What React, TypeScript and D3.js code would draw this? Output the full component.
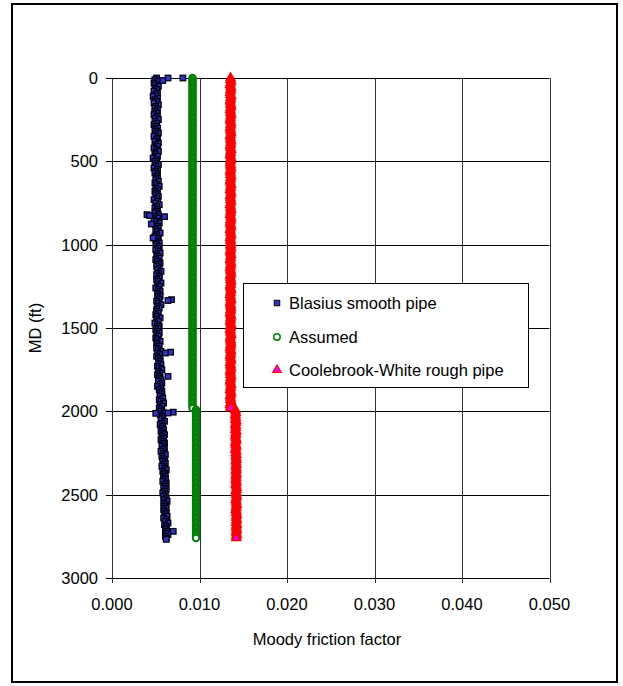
import React from "react";
import * as d3 from "d3";

// measured depth stations (ft), one row = 100 ft
const md = [
  0, 10, 20, 30, 40, 50, 60, 70, 80, 90,
  100, 110, 120, 130, 140, 150, 160, 170, 180, 190,
  200, 210, 220, 230, 240, 250, 260, 270, 280, 290,
  300, 310, 320, 330, 340, 350, 360, 370, 380, 390,
  400, 410, 420, 430, 440, 450, 460, 470, 480, 490,
  500, 510, 520, 530, 540, 550, 560, 570, 580, 590,
  600, 610, 620, 630, 640, 650, 660, 670, 680, 690,
  700, 710, 720, 730, 740, 750, 760, 770, 780, 790,
  800, 810, 820, 830, 840, 850, 860, 870, 880, 890,
  900, 910, 920, 930, 940, 950, 960, 970, 980, 990,
  1000, 1010, 1020, 1030, 1040, 1050, 1060, 1070, 1080, 1090,
  1100, 1110, 1120, 1130, 1140, 1150, 1160, 1170, 1180, 1190,
  1200, 1210, 1220, 1230, 1240, 1250, 1260, 1270, 1280, 1290,
  1300, 1310, 1320, 1330, 1340, 1350, 1360, 1370, 1380, 1390,
  1400, 1410, 1420, 1430, 1440, 1450, 1460, 1470, 1480, 1490,
  1500, 1510, 1520, 1530, 1540, 1550, 1560, 1570, 1580, 1590,
  1600, 1610, 1620, 1630, 1640, 1650, 1660, 1670, 1680, 1690,
  1700, 1710, 1720, 1730, 1740, 1750, 1760, 1770, 1780, 1790,
  1800, 1810, 1820, 1830, 1840, 1850, 1860, 1870, 1880, 1890,
  1900, 1910, 1920, 1930, 1940, 1950, 1960, 1970, 1980, 1990,
  2000, 2010, 2020, 2030, 2040, 2050, 2060, 2070, 2080, 2090,
  2100, 2110, 2120, 2130, 2140, 2150, 2160, 2170, 2180, 2190,
  2200, 2210, 2220, 2230, 2240, 2250, 2260, 2270, 2280, 2290,
  2300, 2310, 2320, 2330, 2340, 2350, 2360, 2370, 2380, 2390,
  2400, 2410, 2420, 2430, 2440, 2450, 2460, 2470, 2480, 2490,
  2500, 2510, 2520, 2530, 2540, 2550, 2560, 2570, 2580, 2590,
  2600, 2610, 2620, 2630, 2640, 2650, 2660, 2670, 2680, 2690,
  2700, 2710, 2720, 2730, 2740, 2750, 2760,
];

const blasius = [
  0.0051, 0.0049, 0.0052, 0.0048, 0.005, 0.0053, 0.0049, 0.0051, 0.0048, 0.0052,
  0.005, 0.0047, 0.0052, 0.0049, 0.0051, 0.0048, 0.0053, 0.005, 0.0049, 0.0052,
  0.0049, 0.0051, 0.0048, 0.0052, 0.005, 0.0053, 0.0049, 0.0051, 0.0048, 0.005,
  0.0052, 0.0049, 0.0051, 0.0053, 0.005, 0.0048, 0.0052, 0.0051, 0.0049, 0.0053,
  0.005, 0.0052, 0.0048, 0.0051, 0.0053, 0.0049, 0.005, 0.0052, 0.0047, 0.0051,
  0.0049, 0.0051, 0.0053, 0.005, 0.0048, 0.0052, 0.005, 0.0049, 0.0052, 0.0051,
  0.0052, 0.005, 0.0053, 0.0049, 0.0051, 0.0054, 0.005, 0.0052, 0.0049, 0.0051,
  0.005, 0.0053, 0.0051, 0.0048, 0.0052, 0.005, 0.0054, 0.0051, 0.0049, 0.0052,
  0.0051, 0.0049, 0.0053, 0.005, 0.0052, 0.0048, 0.0051, 0.0054, 0.005, 0.0052,
  0.0053, 0.005, 0.0052, 0.0055, 0.0051, 0.0049, 0.0053, 0.0052, 0.005, 0.0054,
  0.0051, 0.0054, 0.0052, 0.005, 0.0053, 0.0055, 0.0051, 0.0052, 0.0054, 0.005,
  0.0052, 0.0055, 0.0053, 0.0051, 0.0054, 0.0052, 0.0056, 0.0053, 0.0051, 0.0054,
  0.0054, 0.0051, 0.0053, 0.0056, 0.0052, 0.0054, 0.005, 0.0053, 0.0055, 0.0052,
  0.0053, 0.0055, 0.0052, 0.0054, 0.0051, 0.0053, 0.0056, 0.0052, 0.0054, 0.0051,
  0.0051, 0.0053, 0.005, 0.0052, 0.0055, 0.0051, 0.0053, 0.0049, 0.0052, 0.0054,
  0.0053, 0.005, 0.0052, 0.0054, 0.0051, 0.0053, 0.005, 0.0052, 0.0055, 0.0051,
  0.0052, 0.0054, 0.0051, 0.0053, 0.0056, 0.0052, 0.0054, 0.0051, 0.0053, 0.0055,
  0.0055, 0.0053, 0.0056, 0.0052, 0.0054, 0.0057, 0.0053, 0.0055, 0.0052, 0.0054,
  0.0054, 0.0056, 0.0053, 0.0057, 0.0055, 0.0052, 0.0056, 0.0054, 0.0057, 0.0055,
  0.0057, 0.0055, 0.0058, 0.0054, 0.0056, 0.0059, 0.0055, 0.0057, 0.0054, 0.0056,
  0.0056, 0.0059, 0.0055, 0.0057, 0.0058, 0.0056, 0.006, 0.0057, 0.0055, 0.0058,
  0.0057, 0.0059, 0.0056, 0.0058, 0.006, 0.0057, 0.0059, 0.0056, 0.0058, 0.006,
  0.0059, 0.0057, 0.006, 0.0058, 0.0056, 0.0059, 0.0061, 0.0057, 0.0058, 0.006,
  0.0058, 0.0061, 0.0059, 0.0057, 0.006, 0.0062, 0.0058, 0.006, 0.0059, 0.0061,
  0.0059, 0.0061, 0.0058, 0.0062, 0.006, 0.0061, 0.0059, 0.0062, 0.006, 0.0058,
  0.0061, 0.0059, 0.0062, 0.006, 0.0063, 0.0059, 0.0061, 0.006, 0.0062, 0.0059,
  0.006, 0.0062, 0.0061, 0.0063, 0.0059, 0.0062, 0.0061, 0.0064, 0.006, 0.0062,
  0.0062, 0.0061, 0.0063, 0.0062, 0.0064, 0.0061, 0.0062,
];

// scattered Blasius points off the main band
const blasiusExtraMd = [0, 0, 15, 820, 825, 832, 876, 960, 1330, 1335, 1645, 1650, 1790, 2005, 2010, 2012, 2720, 2768];
const blasiusExtraF = [0.0064, 0.0081, 0.0058, 0.004, 0.0043, 0.006, 0.0045, 0.0047, 0.0068, 0.0064, 0.0067, 0.0061, 0.0064, 0.007, 0.0064, 0.005, 0.007, 0.0062];

const assumed = [
  0.0092, 0.0092, 0.0092, 0.0092, 0.0092, 0.0092, 0.0092, 0.0092, 0.0092, 0.0092,
  0.0092, 0.0092, 0.0092, 0.0092, 0.0092, 0.0092, 0.0092, 0.0092, 0.0092, 0.0092,
  0.0092, 0.0092, 0.0092, 0.0092, 0.0092, 0.0092, 0.0092, 0.0092, 0.0092, 0.0092,
  0.0092, 0.0092, 0.0092, 0.0092, 0.0092, 0.0092, 0.0092, 0.0092, 0.0092, 0.0092,
  0.0092, 0.0092, 0.0092, 0.0092, 0.0092, 0.0092, 0.0092, 0.0092, 0.0092, 0.0092,
  0.0092, 0.0092, 0.0092, 0.0092, 0.0092, 0.0092, 0.0092, 0.0092, 0.0092, 0.0092,
  0.0092, 0.0092, 0.0092, 0.0092, 0.0092, 0.0092, 0.0092, 0.0092, 0.0092, 0.0092,
  0.0092, 0.0092, 0.0092, 0.0092, 0.0092, 0.0092, 0.0092, 0.0092, 0.0092, 0.0092,
  0.0092, 0.0092, 0.0092, 0.0092, 0.0092, 0.0092, 0.0092, 0.0092, 0.0092, 0.0092,
  0.0092, 0.0092, 0.0092, 0.0092, 0.0092, 0.0092, 0.0092, 0.0092, 0.0092, 0.0092,
  0.0092, 0.0092, 0.0092, 0.0092, 0.0092, 0.0092, 0.0092, 0.0092, 0.0092, 0.0092,
  0.0092, 0.0092, 0.0092, 0.0092, 0.0092, 0.0092, 0.0092, 0.0092, 0.0092, 0.0092,
  0.0092, 0.0092, 0.0092, 0.0092, 0.0092, 0.0092, 0.0092, 0.0092, 0.0092, 0.0092,
  0.0092, 0.0092, 0.0092, 0.0092, 0.0092, 0.0092, 0.0092, 0.0092, 0.0092, 0.0092,
  0.0092, 0.0092, 0.0092, 0.0092, 0.0092, 0.0092, 0.0092, 0.0092, 0.0092, 0.0092,
  0.0092, 0.0092, 0.0092, 0.0092, 0.0092, 0.0092, 0.0092, 0.0092, 0.0092, 0.0092,
  0.0092, 0.0092, 0.0092, 0.0092, 0.0092, 0.0092, 0.0092, 0.0092, 0.0092, 0.0092,
  0.0092, 0.0092, 0.0092, 0.0092, 0.0092, 0.0092, 0.0092, 0.0092, 0.0092, 0.0092,
  0.0092, 0.0092, 0.0092, 0.0092, 0.0092, 0.0092, 0.0092, 0.0092, 0.0092, 0.0092,
  0.0092, 0.0092, 0.0092, 0.0092, 0.0092, 0.0092, 0.0092, 0.0092, 0.0092, 0.0096,
  0.0096, 0.0096, 0.0096, 0.0096, 0.0096, 0.0096, 0.0096, 0.0096, 0.0096, 0.0096,
  0.0096, 0.0096, 0.0096, 0.0096, 0.0096, 0.0096, 0.0096, 0.0096, 0.0096, 0.0096,
  0.0096, 0.0096, 0.0096, 0.0096, 0.0096, 0.0096, 0.0096, 0.0096, 0.0096, 0.0096,
  0.0096, 0.0096, 0.0096, 0.0096, 0.0096, 0.0096, 0.0096, 0.0096, 0.0096, 0.0096,
  0.0096, 0.0096, 0.0096, 0.0096, 0.0096, 0.0096, 0.0096, 0.0096, 0.0096, 0.0096,
  0.0096, 0.0096, 0.0096, 0.0096, 0.0096, 0.0096, 0.0096, 0.0096, 0.0096, 0.0096,
  0.0096, 0.0096, 0.0096, 0.0096, 0.0096, 0.0096, 0.0096, 0.0096, 0.0096, 0.0096,
  0.0096, 0.0096, 0.0096, 0.0096, 0.0096, 0.0096, 0.0096,
];

const coolebrook = [
  0.01355, 0.01355, 0.0136, 0.01355, 0.0135, 0.01355, 0.0136, 0.01355, 0.01355, 0.0135,
  0.01355, 0.0136, 0.01355, 0.01355, 0.0135, 0.01355, 0.01355, 0.0136, 0.01355, 0.0135,
  0.01355, 0.01355, 0.0136, 0.01355, 0.01355, 0.0135, 0.01355, 0.0136, 0.01355, 0.01355,
  0.0135, 0.01355, 0.01355, 0.0136, 0.01355, 0.0135, 0.01355, 0.01355, 0.0136, 0.01355,
  0.01355, 0.0135, 0.01355, 0.0136, 0.01355, 0.01355, 0.0135, 0.01355, 0.0136, 0.01355,
  0.01355, 0.0135, 0.01355, 0.01355, 0.0136, 0.01355, 0.0135, 0.01355, 0.01355, 0.0136,
  0.01355, 0.01355, 0.0135, 0.01355, 0.0136, 0.01355, 0.01355, 0.0135, 0.01355, 0.0136,
  0.01355, 0.0135, 0.01355, 0.01355, 0.0136, 0.01355, 0.0135, 0.01355, 0.01355, 0.0136,
  0.01355, 0.01355, 0.0135, 0.01355, 0.0136, 0.01355, 0.01355, 0.0135, 0.01355, 0.0136,
  0.01355, 0.0135, 0.01355, 0.01355, 0.0136, 0.01355, 0.0135, 0.01355, 0.01355, 0.01355,
  0.01355, 0.01355, 0.0136, 0.01355, 0.0135, 0.01355, 0.0136, 0.01355, 0.01355, 0.0135,
  0.01355, 0.0136, 0.01355, 0.01355, 0.0135, 0.01355, 0.01355, 0.0136, 0.01355, 0.0135,
  0.01355, 0.01355, 0.0136, 0.01355, 0.01355, 0.0135, 0.01355, 0.0136, 0.01355, 0.01355,
  0.0135, 0.01355, 0.01355, 0.0136, 0.01355, 0.0135, 0.01355, 0.01355, 0.0136, 0.01355,
  0.01355, 0.0135, 0.01355, 0.0136, 0.01355, 0.01355, 0.0135, 0.01355, 0.0136, 0.01355,
  0.01355, 0.0135, 0.01355, 0.01355, 0.0136, 0.01355, 0.0135, 0.01355, 0.01355, 0.0136,
  0.01355, 0.01355, 0.0135, 0.01355, 0.0136, 0.01355, 0.01355, 0.0135, 0.01355, 0.0136,
  0.01355, 0.0135, 0.01355, 0.01355, 0.0136, 0.01355, 0.0135, 0.01355, 0.01355, 0.0136,
  0.01355, 0.01355, 0.0135, 0.01355, 0.0136, 0.01355, 0.01355, 0.0135, 0.01355, 0.0136,
  0.01355, 0.0135, 0.01355, 0.01355, 0.0136, 0.01355, 0.0135, 0.01355, 0.01355, 0.0141,
  0.0141, 0.01415, 0.0141, 0.0141, 0.01415, 0.0141, 0.0142, 0.01415, 0.0141, 0.01415,
  0.01415, 0.0141, 0.0142, 0.01415, 0.01415, 0.0141, 0.01415, 0.0142, 0.01415, 0.0141,
  0.01415, 0.0142, 0.01415, 0.0141, 0.0142, 0.01415, 0.0142, 0.01415, 0.0142, 0.0142,
  0.01415, 0.0142, 0.0142, 0.01415, 0.0142, 0.0142, 0.01415, 0.0142, 0.0142, 0.01415,
  0.0142, 0.01415, 0.0142, 0.0142, 0.01415, 0.0142, 0.01425, 0.0142, 0.01415, 0.0142,
  0.0142, 0.01425, 0.0142, 0.01415, 0.0142, 0.0142, 0.01425, 0.0142, 0.0142, 0.01415,
  0.0142, 0.0142, 0.01425, 0.0142, 0.0142, 0.01425, 0.0142, 0.0142, 0.01425, 0.0142,
  0.0142, 0.01425, 0.0142, 0.0142, 0.01425, 0.0142, 0.0142,
];

const xTicks = [0, 0.01, 0.02, 0.03, 0.04, 0.05];
const yTicks = [0, 500, 1000, 1500, 2000, 2500, 3000];
const legendLabels = ["Blasius smooth pipe", "Assumed", "Coolebrook-White rough pipe"];

const W = 623;
const H = 686;
const FONT = "'Liberation Sans', Arial, sans-serif";

type Mk = { cx: number; cy: number; sw?: number };

const Square = ({ cx, cy, sw = 1.3 }: Mk) => (
  <rect x={cx - 2.75} y={cy - 2.75} width={5.5} height={5.5} fill="#3333cc" stroke="#000011" strokeWidth={sw} />
);

const Circle = ({ cx, cy, sw = 2 }: Mk) => (
  <circle cx={cx} cy={cy} r={3.2} fill="#ffffff" stroke="#008000" strokeWidth={sw} />
);

const Triangle = ({ cx, cy, sw = 1.6 }: Mk) => {
  const s = 8.5;
  const h = (s * Math.sqrt(3)) / 2;
  const d = `M${cx},${cy - (2 * h) / 3}L${cx + s / 2},${cy + h / 3}L${cx - s / 2},${cy + h / 3}Z`;
  return <path d={d} fill="#ff00ff" stroke="#ff0000" strokeWidth={sw} />;
};

export default function App() {
  const x = d3.scaleLinear().domain([0, 0.05]).range([112, 549.5]);
  const y = d3.scaleLinear().domain([0, 3000]).range([78, 578]);
  const px = (v: number) => Math.round(x(v)) + 0.5;
  const py = (v: number) => Math.round(y(v)) + 0.5;
  const fmt = d3.format(".3f");

  return (
    <svg width={W} height={H} style={{ position: "absolute", left: 0, top: 0 }} fontFamily={FONT}>
      <rect x={0} y={0} width={W} height={H} fill="#fff" />
      <rect x={12} y={4} width={605} height={678} fill="none" stroke="#000" strokeWidth={2} />

      {/* grid */}
      {yTicks.slice(0, -1).map(t => (
        <line key={"gy" + t} x1={x(0)} x2={x(0.05)} y1={py(t)} y2={py(t)} stroke="#000" />
      ))}
      {xTicks.slice(1).map(t => (
        <line key={"gx" + t} x1={px(t)} x2={px(t)} y1={y(0)} y2={y(3000)} stroke="#333" />
      ))}

      {/* axes */}
      <line x1={px(0)} x2={px(0)} y1={y(0)} y2={y(3000)} stroke="#333" />
      <line x1={x(0)} x2={x(0.05)} y1={py(3000)} y2={py(3000)} stroke="#000" />
      {yTicks.map(t => (
        <g key={"ty" + t}>
          <line x1={x(0) - 6} x2={x(0)} y1={py(t)} y2={py(t)} stroke="#000" />
          <text x={98} y={y(t)} dy="0.36em" textAnchor="end" fontSize={16.5} fill="#000">
            {t}
          </text>
        </g>
      ))}
      {xTicks.map(t => (
        <g key={"tx" + t}>
          <line x1={px(t)} x2={px(t)} y1={y(3000)} y2={y(3000) + 5} stroke="#333" />
          <text x={x(t)} y={610} textAnchor="middle" fontSize={16.5} fill="#000">
            {fmt(t)}
          </text>
        </g>
      ))}

      {/* series, drawn in sheet order */}
      <g>
        {md.map((d, i) => (
          <Square key={"b" + i} cx={x(blasius[i])} cy={y(d)} />
        ))}
        {blasiusExtraMd.map((d, i) => (
          <Square key={"be" + i} cx={x(blasiusExtraF[i])} cy={y(d)} />
        ))}
      </g>
      <g>
        {md.map((d, i) => (
          <Circle key={"a" + i} cx={x(assumed[i])} cy={y(d)} />
        ))}
      </g>
      <g>
        {md.map((d, i) => (
          <Triangle key={"c" + i} cx={x(coolebrook[i])} cy={y(d)} />
        ))}
      </g>

      {/* axis titles */}
      <text x={327} y={645} textAnchor="middle" fontSize={16.5} fill="#000">
        Moody friction factor
      </text>
      <text transform="translate(41,328) rotate(-90)" textAnchor="middle" fontSize={16.5} fill="#000">
        MD (ft)
      </text>

      {/* legend */}
      <rect x={243.5} y={283.5} width={285} height={104} fill="#fff" stroke="#000" />
      {legendLabels.map((lab, i) => {
        const ly = [303, 337, 370][i];
        return (
          <g key={lab}>
            {i === 0 && <Square cx={277} cy={ly} sw={1} />}
            {i === 1 && <Circle cx={277} cy={ly} sw={1.5} />}
            {i === 2 && <Triangle cx={277} cy={ly} sw={1.2} />}
            <text x={289} y={ly} dy="0.36em" fontSize={16.5} fill="#000">
              {lab}
            </text>
          </g>
        );
      })}
    </svg>
  );
}
